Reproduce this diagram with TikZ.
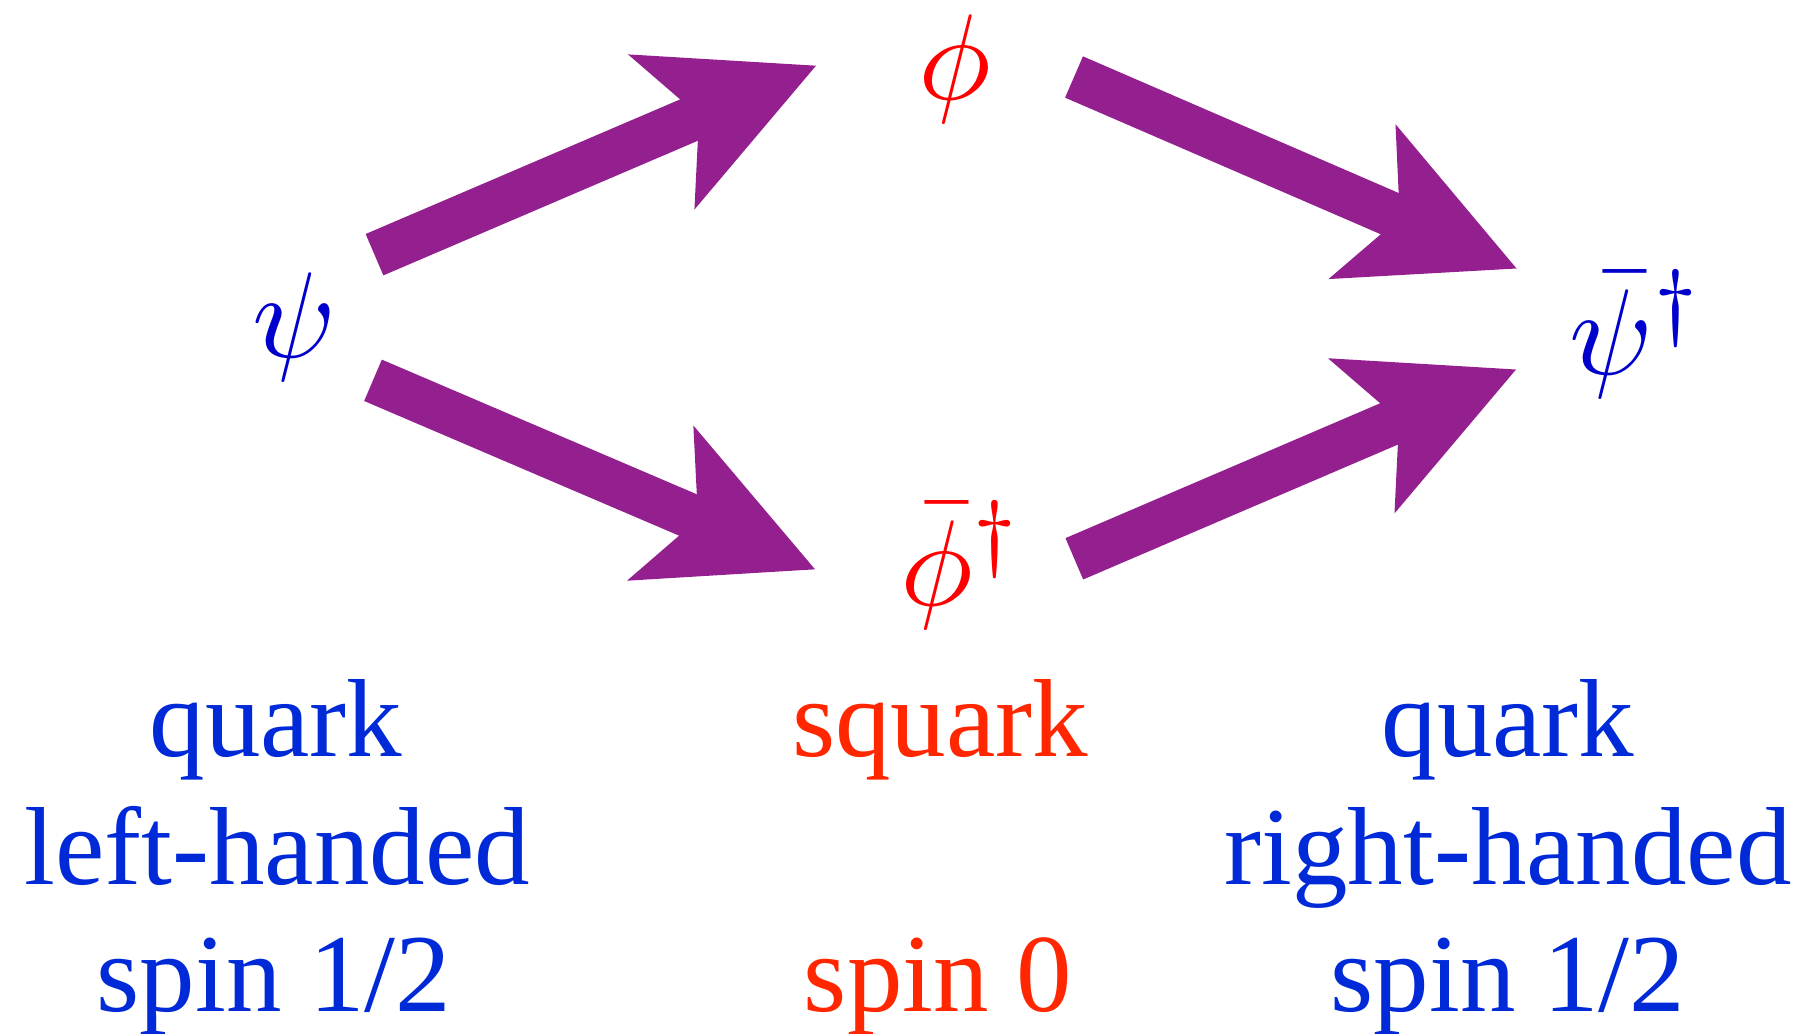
\documentclass[tikz,border=0pt]{standalone}
\usepackage{fontspec}
\setmainfont{Liberation Serif}
\usetikzlibrary{arrows.meta}
\definecolor{arrowpurple}{RGB}{147,32,142}
\definecolor{mathblue}{RGB}{0,0,204}
\definecolor{textblue}{RGB}{0,42,216}
\definecolor{mathred}{RGB}{255,0,0}
\definecolor{textred}{RGB}{255,38,0}
\tikzset{
  bigarrow/.style={draw=arrowpurple, line width=22.5pt,
    -{Stealth[length=84.2pt, width=84.4pt, inset=20.6pt, line width=0pt, fill=arrowpurple]}},
  mathsym/.style={inner sep=0pt, anchor=base, scale=6.1, font=\fontsize{10}{12}\selectfont},
  lbl/.style={inner sep=0pt, anchor=base, font=\fontsize{55.5}{64}\selectfont},
}
\begin{document}
\begin{tikzpicture}[x=0.5pt,y=-0.5pt]
\useasboundingbox (0,0) rectangle (1807,1033);
% particles
\node[mathsym, text=mathblue] (psi) at (294,357) {$\psi$};
\node[mathsym, text=mathred] (phi) at (955,99) {$\phi$};
\node[mathsym, text=mathred] (phibar) at (962,605) {$\bar{\phi}^\dagger$};
\node[mathsym, text=mathblue] (psibar) at (1637,374) {$\bar{\psi}^\dagger$};
% arrow end points
\coordinate (a1s) at (374.5,254.7);
\coordinate (a1e) at (816,65.7);
\coordinate (a3s) at (373,380.3);
\coordinate (a3e) at (815,569.3);
\coordinate (a2s) at (1074,77);
\coordinate (a2e) at (1516.5,268.5);
\coordinate (a4s) at (1074.3,558.8);
\coordinate (a4e) at (1516,369.5);
\draw[bigarrow] (a1s) -- (a1e);
\draw[bigarrow] (a3s) -- (a3e);
\draw[bigarrow] (a2s) -- (a2e);
\draw[bigarrow] (a4s) -- (a4e);
% labels
\node[lbl, text=textblue] (l1) at (276,756.7) {quark};
\node[lbl, text=textblue] (l2) at (277,884.2) {left-handed};
\node[lbl, text=textblue] (l3) at (274,1011.7) {spin 1/2};
\node[lbl, text=textred] (m1) at (940,756.7) {squark};
\node[lbl, text=textred] (m3) at (938,1011.7) {spin 0};
\node[lbl, text=textblue] (r1) at (1508,756.7) {quark};
\node[lbl, text=textblue] (r2) at (1508,884.2) {right-handed};
\node[lbl, text=textblue] (r3) at (1508,1011.7) {spin 1/2};
\end{tikzpicture}
\end{document}
